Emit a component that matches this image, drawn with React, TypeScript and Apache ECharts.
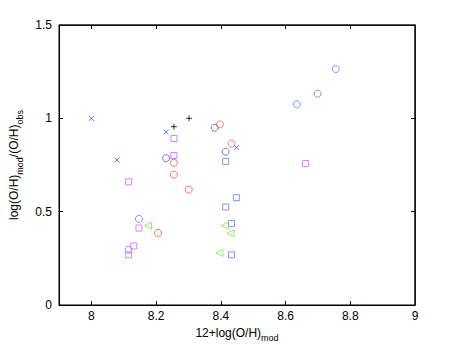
import React, { useEffect, useRef } from "react";
import * as echarts from "echarts";

const xTicks = [8, 8.2, 8.4, 8.6, 8.8, 9];
const yTicks = [0, 0.5, 1, 1.5];
const xRange = [7.9, 9];
const yRange = [0, 1.5];

const blueCircles = [[8.147, 0.461], [8.115, 0.296], [8.635, 1.075], [8.699, 1.132], [8.755, 1.264]];
const darkCircles = [[8.231, 0.787], [8.381, 0.95], [8.415, 0.821]];
const redCircles = [[8.397, 0.967], [8.433, 0.864], [8.255, 0.762], [8.255, 0.698], [8.301, 0.618], [8.206, 0.386]];
const pinkSquares = [[8.255, 0.892], [8.255, 0.801], [8.115, 0.66], [8.147, 0.412], [8.131, 0.316], [8.115, 0.269], [8.662, 0.758]];
const blueSquares = [[8.415, 0.769], [8.448, 0.575], [8.415, 0.525], [8.433, 0.437], [8.433, 0.269]];
const greenTriangles = [[8.175, 0.425], [8.412, 0.425], [8.43, 0.384], [8.396, 0.279]];
const blueCrosses = [[8.0, 1.0], [8.079, 0.777], [8.231, 0.927], [8.448, 0.844]];
const blackPlus = [[8.255, 0.955], [8.302, 1.0]];

const FONT = "'Liberation Sans', Arial, Helvetica, sans-serif";

export default function App() {
  const ref = useRef<HTMLDivElement>(null);
  useEffect(() => {
    if (!ref.current) return;
    const chart = echarts.init(ref.current, null, { renderer: "svg" });
    const hollow = (name: string, data: number[][], symbol: string, color: string, size: number, extra: any = {}) => ({
      name,
      type: "scatter",
      data,
      symbol,
      symbolSize: size,
      itemStyle: { color: "rgba(0,0,0,0)", borderColor: color, borderWidth: 1 },
      ...extra,
    });
    const axisLine = () => ({ show: true, onZero: false, lineStyle: { color: "#000", width: 1 } });
    const tick = (vals?: number[]) => ({
      show: true,
      inside: true,
      length: 4,
      ...(vals ? { customValues: vals } : {}),
      lineStyle: { color: "#000", width: 1 },
    });
    const rich = {
      n: { fontSize: 12, fontFamily: FONT, color: "#000", lineHeight: 16, verticalAlign: "top" },
      s: { fontSize: 9, fontFamily: FONT, color: "#000", lineHeight: 16, verticalAlign: "bottom", padding: [6, 0, 0, 0] },
    };
    chart.setOption({
      animation: false,
      grid: {
        left: 59,
        top: 25,
        right: 43,
        bottom: 40,
        containLabel: false,
        outerBoundsMode: "none",
        show: true,
        borderColor: "#000",
        borderWidth: 1,
        backgroundColor: "rgba(0,0,0,0)",
      },
      xAxis: [
        {
          type: "value",
          min: xRange[0],
          max: xRange[1],
          position: "bottom",
          axisLine: axisLine(),
          splitLine: { show: false },
          axisTick: tick(xTicks),
          axisLabel: { customValues: xTicks, color: "#000", fontSize: 12, fontFamily: FONT, margin: 5 },
          name: "{n|12+log(O/H)}{s|mod}",
          nameLocation: "middle",
          nameGap: 8,
          nameTextStyle: { rich },
        },
        {
          type: "value",
          min: xRange[0],
          max: xRange[1],
          position: "top",
          axisLine: axisLine(),
          splitLine: { show: false },
          axisTick: tick(xTicks),
          axisLabel: { show: false, customValues: xTicks },
        },
      ],
      yAxis: [
        {
          type: "value",
          min: yRange[0],
          max: yRange[1],
          interval: 0.5,
          position: "left",
          axisLine: axisLine(),
          splitLine: { show: false },
          axisTick: tick(),
          axisLabel: { color: "#000", fontSize: 12, fontFamily: FONT, margin: 7 },
          name: "{n|log(O/H)}{s|mod}{n|/(O/H)}{s|obs}",
          nameLocation: "middle",
          nameGap: 33,
          nameTextStyle: { rich },
        },
        {
          type: "value",
          min: yRange[0],
          max: yRange[1],
          interval: 0.5,
          position: "right",
          axisLine: axisLine(),
          splitLine: { show: false },
          axisTick: tick(),
          axisLabel: { show: false },
        },
      ],
      series: [
        hollow("blueCircles", blueCircles, "circle", "#6a78ff", 7),
        hollow("darkCircles", darkCircles, "circle", "#5a50dd", 7),
        hollow("redCircles", redCircles, "circle", "#ff4f4f", 7),
        hollow("pinkSquares", pinkSquares, "rect", "#cc66ff", 6),
        hollow("blueSquares", blueSquares, "rect", "#6a78ff", 6),
        hollow("greenTriangles", greenTriangles, "triangle", "#77ee33", 7, { symbolRotate: 90 }),
        hollow("blueCrosses", blueCrosses, "path://M0,0L10,10M10,0L0,10", "#3f4fff", 5),
        hollow("blackPlus", blackPlus, "path://M5,0L5,10M0,5L10,5", "#000", 6),
        {
          name: "frame",
          type: "line",
          data: [[xRange[0], yRange[1]], [xRange[1], yRange[1]], [xRange[1], yRange[0]]],
          symbol: "none",
          silent: true,
          clip: false,
          lineStyle: { color: "#222", width: 1.2 },
          z: 1,
        },
      ],
    });
    return () => chart.dispose();
  }, []);
  return <div ref={ref} style={{ position: "absolute", left: 0, top: 0, width: 458, height: 345 }} />;
}
